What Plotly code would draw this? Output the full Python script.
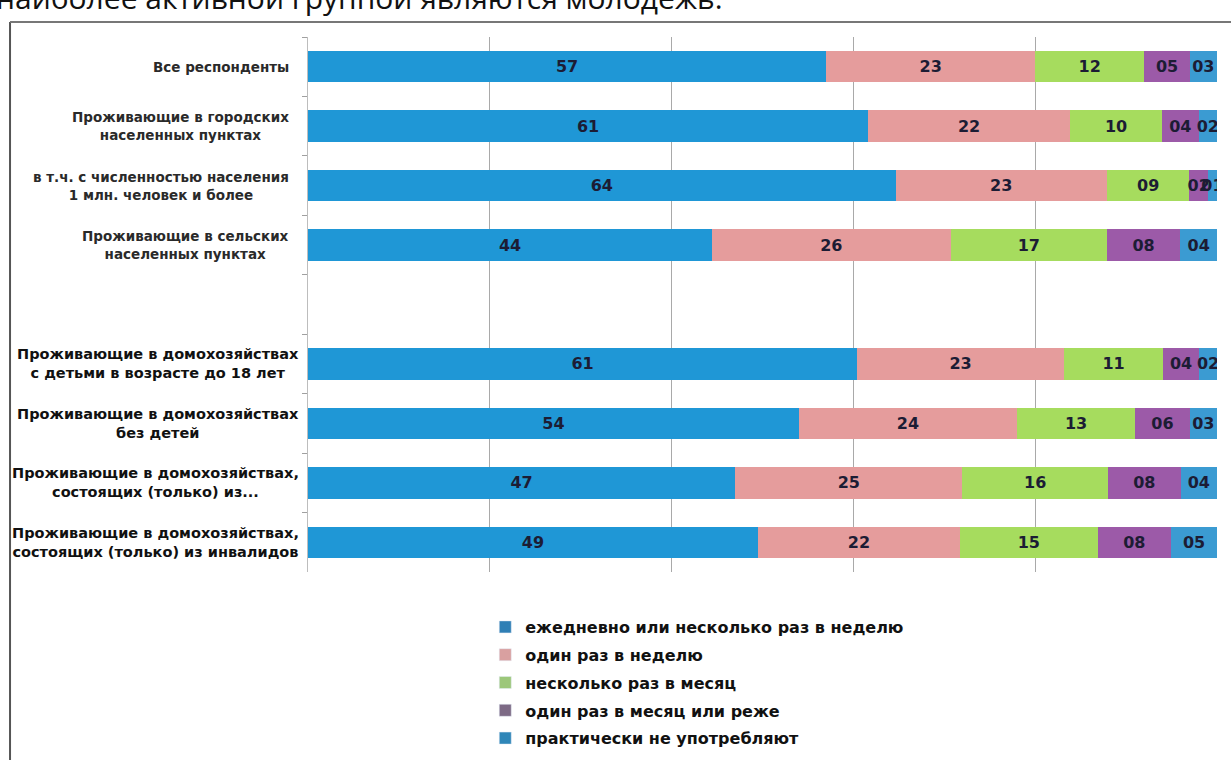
import plotly.graph_objects as go

# Survey groups (one blank spacer row separates the two blocks)
categories = [
    "Все респонденты",
    "Проживающие в городских<br>населенных пунктах",
    "в т.ч. с численностью населения<br>1 млн. человек и более",
    "Проживающие в сельских<br>населенных пунктах",
    " ",
    "Проживающие в домохозяйствах<br>с детьми в возрасте до 18 лет",
    "Проживающие в домохозяйствах<br>без детей",
    "Проживающие в домохозяйствах,<br>состоящих (только) из...",
    "Проживающие в домохозяйствах,<br>состоящих (только) из инвалидов",
]

series_names = [
    "ежедневно или несколько раз в неделю",
    "один раз в неделю",
    "несколько раз в месяц",
    "один раз в месяц или реже",
    "практически не употребляют",
]

daily = [57, 61, 64, 44, None, 61, 54, 47, 49]
weekly = [23, 22, 23, 26, None, 23, 24, 25, 22]
monthly_few = [12, 10, 9, 17, None, 11, 13, 16, 15]
monthly_once = [5, 4, 2, 8, None, 4, 6, 8, 8]
never = [3, 2, 1, 4, None, 2, 3, 4, 5]

series_values = [daily, weekly, monthly_few, monthly_once, never]
bar_colors = ["#1f97d6", "#e59c9c", "#a6dc5e", "#9c5aa8", "#3b9bd2"]
legend_colors = ["#2f7fb5", "#d9a0a0", "#9cc77a", "#7d6a85", "#2f86b8"]

label_font = "DejaVu Sans"

fig = go.Figure()
for i, (name, vals) in enumerate(zip(series_names, series_values)):
    fig.add_trace(go.Bar(
        y=categories,
        x=vals,
        name=name,
        orientation="h",
        legendgroup=f"g{i}",
        marker=dict(color=bar_colors[i], line=dict(width=0)),
        text=[("%02d" % v) if v is not None else "" for v in vals],
        textposition="inside",
        insidetextanchor="middle",
        constraintext="none",
        textangle=0,
        textfont=dict(family=label_font, size=16, color="#1c1c34", weight="bold"),
        hoverinfo="skip",
        showlegend=False,
    ))
    # legend swatch in the muted legend colour
    fig.add_trace(go.Bar(
        y=[categories[0]], x=[None], name=name, orientation="h",
        legendgroup=f"g{i}",
        marker=dict(color=legend_colors[i]),
        showlegend=True, hoverinfo="skip",
    ))

# Category labels, centred line-by-line and right-aligned to the axis
for j, cat in enumerate(categories):
    if not cat.strip():
        continue
    lower = j >= 5
    fig.add_annotation(
        x=0, xref="paper", xanchor="right", xshift=-7 if lower else -17,
        y=cat, yref="y", yanchor="middle",
        text=cat, showarrow=False, align="center",
        font=dict(family=label_font, size=14.5 if lower else 13.5,
                  color="#111" if lower else "#2a2a2a",
                  weight="bold"),
    )

# Surrounding frame (left and top edges)
fig.add_shape(type="line", xref="paper", yref="paper",
              x0=-0.3278, x1=-0.3278, y0=1.028, y1=-0.6,
              line=dict(color="#555", width=2))
fig.add_shape(type="line", xref="paper", yref="paper",
              x0=-0.3278, x1=1.05, y0=1.028, y1=1.028,
              line=dict(color="#777", width=2))

# Heading line of the surrounding text, cut by the top edge
fig.add_annotation(
    x=-0.345, xref="paper", xanchor="left",
    y=1.0, yref="paper", yanchor="bottom", yshift=17,
    text="наиболее активной группой являются молодежь.",
    showarrow=False,
    font=dict(family="Open Sans", size=30, color="#111"),
)

fig.update_layout(
    width=1231, height=760,
    margin=dict(l=308, r=14, t=37, b=188, autoexpand=False),
    paper_bgcolor="white", plot_bgcolor="white",
    barmode="stack", barnorm="percent", bargap=0.47,
    xaxis=dict(range=[0, 100], dtick=20, showgrid=True, gridcolor="#a9a9a9",
               gridwidth=1, zeroline=False, showticklabels=False,
               showline=False, fixedrange=True),
    yaxis=dict(type="category", autorange="reversed", showticklabels=False,
               showline=True, linecolor="#bdbdbd", linewidth=1,
               ticks="outside", tickson="boundaries", ticklen=5,
               tickcolor="#a0a0a0", showgrid=False),
    legend=dict(orientation="v", x=0.195, xanchor="left", y=-0.071,
                yanchor="top", traceorder="grouped", tracegroupgap=4,
                font=dict(family=label_font, size=16, color="#111",
                          weight="bold"),
                itemwidth=30, bgcolor="rgba(0,0,0,0)"),
    showlegend=True,
)

fig.write_html("out.html")
